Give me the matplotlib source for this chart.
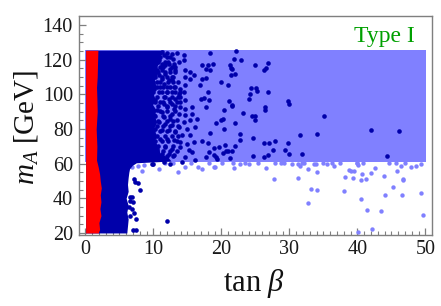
#!/usr/bin/env python3
"""Scan of tan beta against m_A for the Type I model."""

import matplotlib

matplotlib.use("Agg")
import matplotlib.pyplot as plt

LIGHT = "#8080ff"
DARK = "#0000aa"
RED = "#ff0000"
GRAY = "#7f7f7f"

# filled regions
band_x = [0.0, 50.1]
band_low = [61.0, 61.0]
band_high = [125.3, 125.3]

dark_y = [125.4, 122, 118, 115, 112, 108, 105, 100, 97, 94, 91, 88, 84, 80, 77, 74, 70, 66, 63.5,
          61.5, 60.5, 59, 57, 55, 52, 48, 44, 40, 36, 32, 28, 24, 20]
dark_right = [11.6, 11.0, 10.8, 10.3, 10.6, 10.1, 10.4, 10.0, 10.3, 9.9, 10.4, 10.1, 10.5, 10.0,
              10.4, 10.2, 10.6, 11.0, 12.2, 12.6, 7.5, 6.9, 6.5, 6.4, 6.3, 6.2, 6.3, 6.0, 6.3,
              6.1, 6.3, 6.2, 6.1]

red_y = [125.4, 118, 110, 104, 98, 90, 80, 70, 62, 58, 54, 50, 46, 42, 38, 34, 30, 26, 22, 20]
red_left = [0.05] * len(red_y)
red_right = [1.85, 1.8, 1.75, 1.65, 1.7, 1.75, 1.6, 1.7, 1.65, 1.9, 2.1, 2.2, 2.35, 2.2, 2.3,
             2.15, 2.3, 2.0, 2.1, 1.9]

# single points on the light blue
light_tanb = [27.8, 30.4, 31.3, 31.5, 32.7, 34.1, 31.3, 33.6, 33.9, 35.5, 36.6, 38.8, 39.1, 39.5,
              38.1, 39.3, 40.7, 40.5, 41.2, 42.0, 42.6, 40.1, 40.8, 43.9, 45.8, 46.4, 47.9, 48.6,
              49.4, 46.7, 46.7, 45.2, 33.2, 34.1, 38.0, 44.0, 46.5, 49.3, 40.5, 32.8, 41.4, 43.5,
              49.6, 42.1, 40.1, 21.7, 21.8, 24.1, 26.6, 8.3, 10.9, 13.6, 17.1, 19.1, 14.7, 16.5,
              6.9, 7.8, 8.6, 18.9, 20.1, 22.8, 27.9, 28.7, 32.2, 34.9, 37.4, 40.0, 44.6, 45.6,
              11.7, 12.9, 15.6, 18.2, 23.4, 25.4, 29.2, 31.9, 36.2, 39.9, 47.0]
light_ma = [51.1, 60.0, 60.0, 58.9, 56.7, 55.4, 51.7, 60.0, 60.0, 60.0, 58.4, 56.1, 55.7, 55.7,
            52.1, 51.7, 53.8, 50.4, 51.1, 54.6, 57.3, 59.4, 60.5, 52.8, 56.0, 58.6, 57.9, 58.6,
            59.6, 51.0, 50.4, 46.7, 45.4, 44.6, 44.0, 41.7, 41.9, 42.9, 39.4, 37.3, 33.2, 32.5,
            30.6, 22.1, 20.8, 60.6, 57.7, 59.6, 57.7, 55.7, 56.7, 55.2, 56.9, 57.9, 58.3, 57.9,
            58.3, 58.6, 59.5, 58.0, 60.3, 59.8, 60.4, 60.2, 60.5, 60.6, 60.2, 60.4, 60.6, 60.3,
            60.4, 60.1, 60.2, 60.3, 60.5, 60.4, 60.6, 60.3, 60.4, 60.5, 60.4]

# single dark points, x then y
dark_tanb = [18.3, 22.2, 21.8, 22.9, 17.1, 18.1, 18.8, 17.8, 18.4, 21.2, 21.4, 21.5, 24.9, 26.9,
             26.5, 26.2, 22.0, 21.4, 17.7, 17.1, 20.0, 21.0, 16.9, 18.0, 24.4, 25.1, 25.3, 24.2,
             26.9, 24.1, 17.4, 17.0, 18.2, 21.1, 21.5,
             17.7, 20.4, 21.5, 23.2, 26.4, 26.4, 24.5, 25.0, 20.2, 19.9, 19.2, 22.0, 20.4, 18.3,
             25.0, 22.7, 24.7, 22.7, 17.1, 18.1, 26.2, 27.0, 20.6, 18.9, 19.6, 18.2, 20.7, 21.0,
             21.5, 20.2, 22.0, 17.8, 18.9, 19.2, 19.3, 21.3, 24.6, 26.3, 26.9,
             29.8, 29.9, 35.1, 42.0, 46.1, 31.5, 34.0, 27.9, 29.8, 27.6, 29.3, 30.0, 31.9, 44.4,
             13.46, 12.73, 14.54, 12.88, 13.71, 14.54, 11.99, 11.5, 12.24, 12.97, 13.22, 12.48,
             11.75, 11.26, 10.77, 10.28, 10.04, 10.53, 11.26, 11.75, 12.73, 12.24, 13.22, 14.69,
             15.42, 14.69, 15.91, 15.42, 12.73, 11.26, 10.77, 10.04, 9.79, 9.3, 10.53, 11.5,
             11.02, 11.99, 12.97, 13.95, 14.69, 13.71, 12.73, 11.99, 10.77, 10.04, 9.06, 9.55,
             11.5, 12.24, 13.22, 13.95, 14.44, 11.02, 10.28, 12.73, 13.95, 14.69, 11.5, 9.55,
             11.99, 12.97, 13.95, 14.69, 15.67, 12.73, 13.71, 14.69, 15.67, 11.26, 10.53, 10.04,
             11.5, 12.48, 13.46, 14.44, 15.42, 16.4, 9.79, 10.77, 11.75, 12.73, 13.71, 14.93,
             16.16, 9.3, 10.28, 11.26, 12.24, 13.22, 14.2, 15.42, 9.06, 10.04, 11.02, 11.99,
             12.97, 13.95, 14.93, 15.91, 11.75, 12.73, 13.95, 10.53, 9.79, 11.26, 12.24, 12.97,
             15.18, 14.69, 15.67, 16.16, 9.79, 11.5, 14.2,
             7.1, 7.34, 7.68, 8.03, 6.85, 6.51, 7.0, 6.5, 6.85, 6.36, 7.1, 6.5, 7.49, 12.04,
             7.0, 7.49, 9.9, 12.5]
dark_ma = [123.8, 124.8, 120.4, 119.6, 116.7, 117.1, 117.5, 114.8, 114.3, 116.7, 115.2, 114.4,
           116.9, 118.3, 115.2, 114.3, 111.9, 111.1, 109.4, 109.0, 107.3, 105.4, 105.6, 101.1,
           103.4, 103.6, 101.9, 100.4, 101.1, 97.5, 98.1, 97.1, 96.7, 96.1, 94.0,
           92.7, 91.2, 93.5, 89.2, 92.7, 90.8, 87.3, 87.7, 86.0, 85.4, 83.4, 83.3, 80.2, 77.7,
           85.0, 77.3, 75.0, 73.4, 72.9, 72.1, 71.7, 71.7, 71.0, 69.0, 69.8, 66.7, 67.1, 67.1,
           67.1, 66.1, 70.2, 63.8, 64.8, 63.8, 62.9, 63.5, 64.2, 63.8, 65.2,
           95.9, 94.2, 87.5, 79.2, 79.0, 76.5, 77.3, 73.0, 72.1, 67.7, 67.7, 65.8, 65.5, 64.6,
           124.0, 123.5, 122.9, 120.6, 118.6, 119.6, 121.5, 122.5, 117.7, 117.7, 115.8, 114.8,
           116.7, 117.7, 119.6, 117.7, 114.8, 113.8, 113.8, 111.9, 110.0, 108.1, 113.8, 113.8,
           112.9, 110.0, 111.0, 109.0, 108.1, 109.0, 111.0, 111.9, 109.0, 105.2, 107.1, 106.2,
           104.2, 104.2, 104.2, 103.3, 105.2, 100.4, 101.3, 101.3, 101.3, 103.3, 101.3, 99.4,
           98.5, 97.5, 97.5, 98.5, 101.3, 95.6, 96.5, 94.6, 95.6, 96.5, 94.6, 95.6,
           92.7, 91.7, 92.7, 91.7, 92.7, 88.8, 88.8, 87.9, 88.8, 89.8, 90.8, 87.9,
           86.9, 85.9, 85.0, 84.0, 85.0, 85.9, 85.0, 84.0, 83.0, 82.1, 81.1, 80.2,
           81.1, 82.1, 80.2, 79.2, 79.2, 78.3, 76.3, 76.3, 73.5, 75.4, 74.4, 74.4,
           73.5, 72.5, 71.5, 72.5, 69.6, 68.6, 69.6, 68.6, 70.6, 65.8, 65.8, 64.8,
           67.7, 63.8, 66.7, 61.9, 60.0, 60.9, 60.9,
           51.3, 49.4, 48.8, 44.6, 40.8, 40.8, 37.9, 38.4, 34.0, 35.0, 31.7, 29.6, 28.3, 27.1,
           21.5, 21.5, 59.6, 59.6]

# extra dark clumps next to the solid part
clump_tanb = [11.21, 11.94, 10.23, 10.96, 12.43, 9.98, 10.72, 11.7, 12.19, 10.23, 10.96, 11.45,
              12.68, 9.98, 10.72, 11.7, 12.43, 13.16, 10.23, 11.21, 11.94, 12.92, 9.98, 10.96,
              12.19, 12.92, 13.65, 10.47, 11.45, 12.43, 13.16, 9.98, 11.21, 11.94, 13.16, 13.9,
              10.47, 11.7, 12.68, 13.65, 10.23, 11.45, 12.43, 13.41, 10.72, 11.94, 13.16,
              9.98, 10.96, 11.94, 13.16, 10.23, 11.45, 12.43, 9.98, 10.72, 11.94, 12.92, 10.47,
              11.45, 12.43, 13.65, 9.98, 10.96, 11.94, 13.16, 10.47, 11.7, 12.68, 13.65, 10.23,
              11.21, 12.19, 13.41, 10.72, 11.7, 12.92, 10.47, 11.45, 12.43, 13.41, 10.96, 11.94,
              12.92]
clump_ma = [124.6, 123.6, 121.7, 121.7, 121.7, 118.8, 118.8, 118.8, 118.8, 115.9, 115.9, 115.9,
            115.9, 113.0, 113.0, 113.0, 113.0, 113.0, 110.2, 110.2, 110.2, 110.2, 107.3, 107.3,
            107.3, 107.3, 107.3, 104.4, 104.4, 104.4, 104.4, 101.5, 101.5, 101.5, 101.5, 101.5,
            98.6, 98.6, 98.6, 98.6, 95.7, 95.7, 95.7, 95.7, 93.4, 93.4, 93.4,
            90.2, 90.2, 90.2, 90.2, 87.3, 87.3, 87.3, 84.4, 84.4, 84.4, 84.4, 81.5,
            81.5, 81.5, 81.5, 78.6, 78.6, 78.6, 78.6, 75.7, 75.7, 75.7, 75.7, 72.9,
            72.9, 72.9, 72.9, 70.0, 70.0, 70.0, 67.1, 67.1, 67.1, 67.1, 64.2, 64.2,
            64.2]

x_ticks = [0, 10, 20, 30, 40, 50]
y_ticks = [20, 40, 60, 80, 100, 120, 140]
x_minor = [v for v in range(0, 51) if v % 10]
y_minor = [v for v in range(20, 145, 5) if v % 20]


def main():
    plt.rcParams["font.family"] = "Liberation Serif"
    plt.rcParams["mathtext.fontset"] = "custom"
    plt.rcParams["mathtext.rm"] = "Liberation Serif"
    plt.rcParams["mathtext.it"] = "Liberation Serif:italic"

    fig = plt.figure(figsize=(4.41, 3.06), dpi=100)
    ax = fig.add_axes([78.5 / 441, 1 - 234.7 / 306, (432.3 - 78.5) / 441, (234.7 - 16.3) / 306])

    ax.fill_between(band_x, band_low, band_high, color=LIGHT, lw=0, zorder=1)
    ax.scatter(light_tanb, light_ma, s=10, color=LIGHT, lw=0, zorder=2)
    ax.fill_betweenx(dark_y, red_left[0], dark_right, color=DARK, lw=0, zorder=3)
    ax.scatter(dark_tanb, dark_ma, s=11, color=DARK, lw=0, zorder=4)
    ax.scatter(clump_tanb, clump_ma, s=11, color=DARK, lw=0, zorder=4)
    ax.fill_betweenx(red_y, red_left, red_right, color=RED, lw=0, zorder=5)

    ax.set_xlim(-1, 51)
    ax.set_ylim(19, 145)
    ax.set_xticks(x_ticks)
    ax.set_yticks(y_ticks)
    ax.set_xticks(x_minor, minor=True)
    ax.set_yticks(y_minor, minor=True)
    ax.tick_params(which="major", direction="in", length=5, width=0.9, color=GRAY,
                   labelsize=14.5, labelcolor="#1a1a1a", pad=4)
    ax.tick_params(which="minor", direction="in", length=2.7, width=0.8, color=GRAY)
    for spine in ax.spines.values():
        spine.set_color(GRAY)
        spine.set_linewidth(1.0)

    fig.text(415 / 441, 1 - 42 / 306, "Type I", ha="right", va="baseline",
             color="#00a000", fontsize=17)
    fig.text(254 / 441, 1 - 291 / 306, r"$\mathrm{tan}\ \beta$", ha="center", va="baseline",
             fontsize=22, color="#111111")
    fig.text(33 / 441, 1 - 127 / 306, r"$m_A\ \mathrm{[GeV]}$", rotation=90, ha="center",
             va="baseline", rotation_mode="anchor", fontsize=21, color="#111111")

    fig.savefig("out.png", dpi=100)
    plt.close(fig)


if __name__ == "__main__":
    main()
